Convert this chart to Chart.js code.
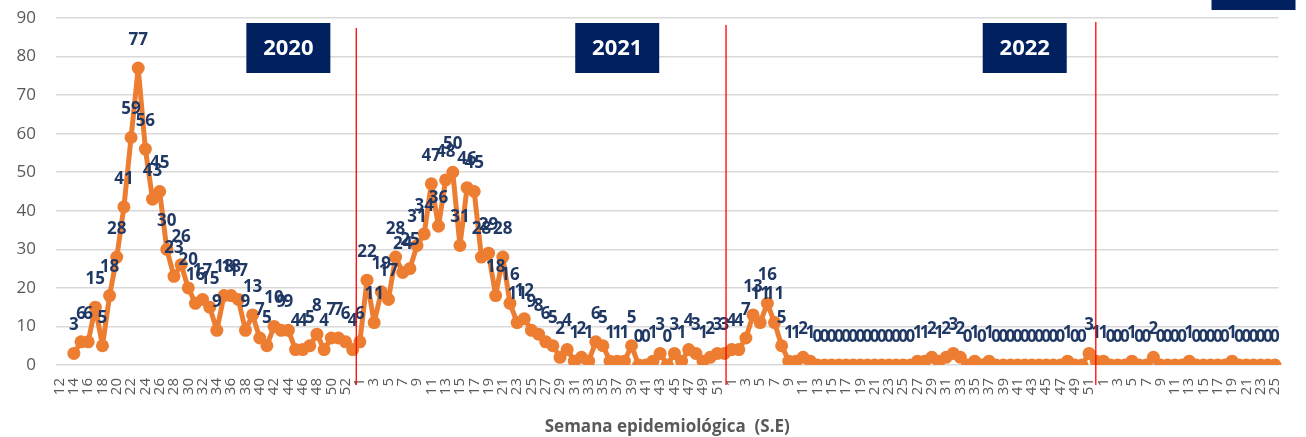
<!DOCTYPE html>
<html>
<head>
<meta charset="utf-8">
<script src="https://cdn.jsdelivr.net/npm/chart.js"></script>
<style>
  html, body { margin: 0; padding: 0; background: #fff; }
  #wrap { width: 1306px; height: 437px; position: relative; }
</style>
</head>
<body>
<div id="wrap"><canvas id="grafico"></canvas></div>
<script>
  // semanas epidemiologicas por año
  var semanas2020 = [12, 13, 14, 15, 16, 17, 18, 19, 20, 21, 22, 23, 24, 25, 26, 27, 28, 29, 30, 31, 32, 33, 34, 35, 36, 37, 38, 39, 40, 41, 42, 43, 44, 45, 46, 47, 48, 49, 50, 51, 52, 53];
  var semanas2021 = [1, 2, 3, 4, 5, 6, 7, 8, 9, 10, 11, 12, 13, 14, 15, 16, 17, 18, 19, 20, 21, 22, 23, 24, 25, 26, 27, 28, 29, 30, 31, 32, 33, 34, 35, 36, 37, 38, 39, 40, 41, 42, 43, 44, 45, 46, 47, 48, 49, 50, 51, 52];
  var semanas2022 = [1, 2, 3, 4, 5, 6, 7, 8, 9, 10, 11, 12, 13, 14, 15, 16, 17, 18, 19, 20, 21, 22, 23, 24, 25, 26, 27, 28, 29, 30, 31, 32, 33, 34, 35, 36, 37, 38, 39, 40, 41, 42, 43, 44, 45, 46, 47, 48, 49, 50, 51, 52];
  var semanas2023 = [1, 2, 3, 4, 5, 6, 7, 8, 9, 10, 11, 12, 13, 14, 15, 16, 17, 18, 19, 20, 21, 22, 23, 24, 25];

  // casos por semana
  var casos2020 = [null, null, 3, 6, 6, 15, 5, 18, 28, 41, 59, 77, 56, 43, 45, 30, 23, 26, 20, 16, 17, 15, 9, 18, 18, 17, 9, 13, 7, 5, 10, 9, 9, 4, 4, 5, 8, 4, 7, 7, 6, 4];
  var casos2021 = [6, 22, 11, 19, 17, 28, 24, 25, 31, 34, 47, 36, 48, 50, 31, 46, 45, 28, 29, 18, 28, 16, 11, 12, 9, 8, 6, 5, 2, 4, 1, 2, 1, 6, 5, 1, 1, 1, 5, 0, 0, 1, 3, 0, 3, 1, 4, 3, 1, 2, 3, 3];
  var casos2022 = [4, 4, 7, 13, 11, 16, 11, 5, 1, 1, 2, 1, 0, 0, 0, 0, 0, 0, 0, 0, 0, 0, 0, 0, 0, 0, 1, 1, 2, 1, 2, 3, 2, 0, 1, 0, 1, 0, 0, 0, 0, 0, 0, 0, 0, 0, 0, 1, 0, 0, 3, 1];
  var casos2023 = [1, 0, 0, 0, 1, 0, 0, 2, 0, 0, 0, 0, 1, 0, 0, 0, 0, 0, 1, 0, 0, 0, 0, 0, 0];

  var anios = ["2020", "2021", "2022", "2023"];
  var yTicks = [0, 10, 20, 30, 40, 50, 60, 70, 80, 90];

  var etiquetas = [].concat(semanas2020, semanas2021, semanas2022, semanas2023).map(String);
  var casos = [].concat(casos2020, casos2021, casos2022, casos2023);

  // limites entre años (indice de la ultima semana de cada año)
  var cortes = [semanas2020.length - 1, semanas2020.length + semanas2021.length - 1, semanas2020.length + semanas2021.length + semanas2022.length - 1];
  // semana donde se ubica el recuadro de cada año
  var cajas = [
    { texto: anios[0], idx: 32 },
    { texto: anios[1], idx: 78 },
    { texto: anios[2], idx: 135 },
    { texto: anios[3], idx: 167 }
  ];

  var navy = "#002060";

  var etiquetasDatos = {
    id: "etiquetasDatos",
    afterDatasetsDraw: function (chart) {
      var ctx = chart.ctx;
      var meta = chart.getDatasetMeta(0);
      ctx.save();
      ctx.font = "bold 17px 'Open Sans'";
      ctx.fillStyle = "#203864";
      ctx.textAlign = "center";
      ctx.textBaseline = "middle";
      meta.data.forEach(function (pt, i) {
        if (casos[i] === null) return;
        ctx.fillText(String(casos[i]), pt.x, pt.y - 28);
      });
      ctx.restore();
    }
  };

  var lineasAnio = {
    id: "lineasAnio",
    afterDatasetsDraw: function (chart) {
      var ctx = chart.ctx;
      var x = chart.scales.x;
      var area = chart.chartArea;
      ctx.save();
      ctx.strokeStyle = "#ff0000";
      ctx.lineWidth = 1.3;
      cortes.forEach(function (c, k) {
        var px = (x.getPixelForValue(c) + x.getPixelForValue(c + 1)) / 2 - 2 * k;
        ctx.beginPath();
        ctx.moveTo(px, area.top + 10 - 3 * k);
        ctx.lineTo(px, area.bottom + 20);
        ctx.stroke();
      });

      // recuadros de año
      ctx.font = "bold 22px 'Noto Sans'";
      ctx.textAlign = "center";
      ctx.textBaseline = "middle";
      cajas.forEach(function (b, k) {
        var cx = x.getPixelForValue(b.idx);
        var top = area.top + 5;
        var h = 50;
        if (k === 3) { top = -40; }
        ctx.fillStyle = navy;
        ctx.fillRect(cx - 42, top, 84, h);
        ctx.fillStyle = "#ffffff";
        ctx.fillText(b.texto, cx, top + h / 2 + 1);
      });
      ctx.restore();
    }
  };

  var ctx = document.getElementById("grafico").getContext("2d");
  var grafico = new Chart(ctx, {
    type: "line",
    data: {
      labels: etiquetas,
      datasets: [
        {
          data: casos,
          borderColor: "#ED7D31",
          backgroundColor: "#ED7D31",
          borderWidth: 5,
          borderJoinStyle: "round",
          borderCapStyle: "round",
          pointRadius: 6.5,
          pointBorderWidth: 0,
          pointBackgroundColor: "#ED7D31",
          tension: 0,
          spanGaps: false
        }
      ]
    },
    options: {
      responsive: true,
      maintainAspectRatio: false,
      animation: false,
      layout: { padding: { top: 18, right: 13, left: 0, bottom: 0 } },
      plugins: {
        legend: { display: false },
        tooltip: { enabled: false }
      },
      scales: {
        x: {
          offset: true,
          grid: { display: false, drawTicks: false },
          border: { display: false },
          ticks: {
            autoSkip: false,
            minRotation: 90,
            maxRotation: 90,
            padding: 13,
            color: "#595959",
            font: { family: "'Open Sans'", size: 15 },
            callback: function (value, index) {
              return index % 2 === 0 ? this.getLabelForValue(value) : "";
            }
          },
          title: {
            display: true,
            text: "Semana epidemiológica  (S.E)",
            color: "#595959",
            font: { family: "'Open Sans'", size: 17, weight: "bold" },
            padding: { top: 0, bottom: 0 }
          },
          afterFit: function (scale) { scale.height = 72; }
        },
        y: {
          min: 0,
          max: 90,
          afterBuildTicks: function (scale) {
            scale.ticks = yTicks.map(function (v) { return { value: v }; });
          },
          grid: { color: "#d9d9d9", lineWidth: 1.5, drawTicks: true, tickLength: 20, tickColor: "rgba(0,0,0,0)" },
          border: { display: false },
          ticks: {
            padding: 0,
            color: "#595959",
            font: { family: "'Open Sans'", size: 17 }
          },
          afterFit: function (scale) { scale.width = 56; }
        }
      }
    },
    plugins: [etiquetasDatos, lineasAnio]
  });
</script>
</body>
</html>
